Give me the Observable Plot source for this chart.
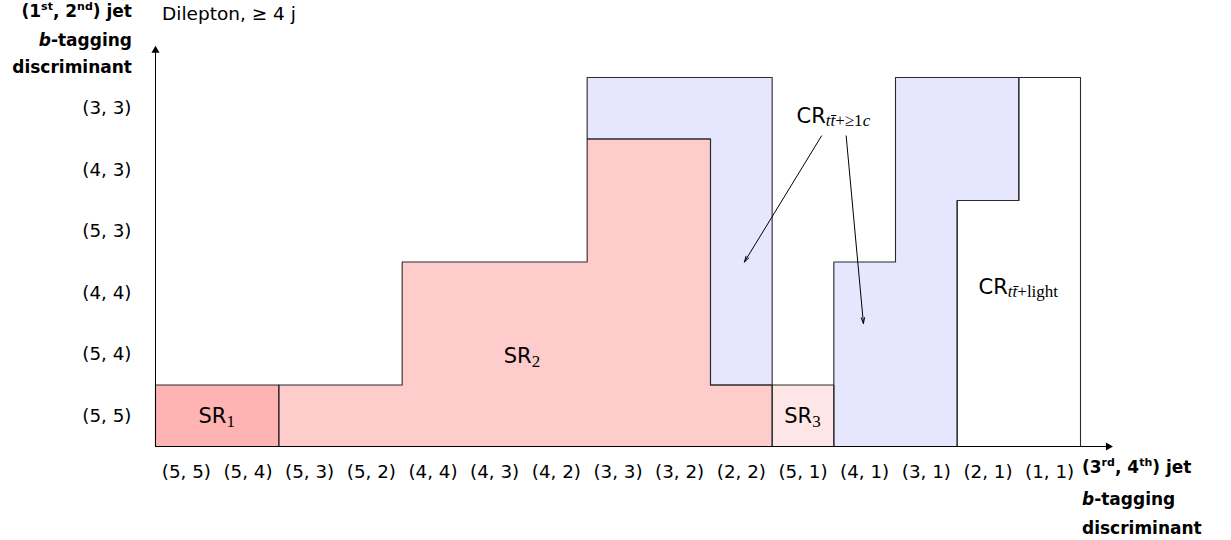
<!DOCTYPE html>
<html><head><meta charset="utf-8">
<script src="https://cdn.jsdelivr.net/npm/d3@7"></script>
<script src="https://cdn.jsdelivr.net/npm/@observablehq/plot@0.6"></script>
<style>
body{margin:0;background:#fff;}
#wrap{position:relative;width:1231px;height:540px;font-family:"DejaVu Sans",sans-serif;color:#000;}
#wrap svg{position:absolute;left:0;top:0;}
.lab{position:absolute;font-weight:bold;font-size:17px;line-height:27px;white-space:nowrap;}
.lab sup{font-size:11px;vertical-align:0;position:relative;top:-7px;}
.sub{position:absolute;font-size:18.5px;white-space:nowrap;}
</style></head><body><div id="wrap"></div>
<script>
// ---- data ----
const xLabels = ["(5, 5)","(5, 4)","(5, 3)","(5, 2)","(4, 4)","(4, 3)","(4, 2)","(3, 3)","(3, 2)","(2, 2)","(5, 1)","(4, 1)","(3, 1)","(2, 1)","(1, 1)"];
const yLabels = ["(5, 5)","(5, 4)","(4, 4)","(5, 3)","(4, 3)","(3, 3)"];

const sr1Bins = [0, 1];
const sr1Low  = [0, 0];
const sr1High = [1, 1];

const sr2Bins = [2, 3, 4, 5, 6, 7, 8, 9];
const sr2Low  = [0, 0, 0, 0, 0, 0, 0, 0];
const sr2High = [1, 1, 3, 3, 3, 5, 5, 1];

const sr3Bins = [10];
const sr3Low  = [0];
const sr3High = [1];

const crcBins = [7, 8, 9, 11, 12, 13];
const crcLow  = [5, 5, 1, 0, 0, 4];
const crcHigh = [6, 6, 6, 3, 6, 6];

const crlBins = [13, 14];
const crlLow  = [0, 0];
const crlHigh = [4, 6];

// ---- helpers ----
function cells(bins, low, high) {
  return bins.map((b, i) => ({x1: b, x2: b + 1, y1: low[i], y2: high[i]}));
}
function outline(bins, low, high, name) {
  const groups = []; let cur = null;
  bins.forEach((b, i) => { if (!cur || b !== bins[i - 1] + 1) { cur = []; groups.push(cur); } cur.push(i); });
  const pts = [];
  groups.forEach((g, gi) => {
    const id = name + gi;
    const p = [[bins[g[0]], low[g[0]]]];
    g.forEach(i => { p.push([bins[i], high[i]]); p.push([bins[i] + 1, high[i]]); });
    g.slice().reverse().forEach(i => { p.push([bins[i] + 1, low[i]]); p.push([bins[i], low[i]]); });
    p.forEach(([x, y]) => pts.push({id, x, y}));
  });
  return pts;
}

const nX = xLabels.length, nY = yLabels.length;
const xEnd = nX + 0.45, yEnd = nY + 0.44;
const edge = "#2a2a2a";
const regions = [
  {bins: sr1Bins, low: sr1Low, high: sr1High, fill: "#ffb3b3", name: "sr1"},
  {bins: sr2Bins, low: sr2Low, high: sr2High, fill: "#ffcccc", name: "sr2"},
  {bins: sr3Bins, low: sr3Low, high: sr3High, fill: "#ffe6e6", name: "sr3"},
  {bins: crcBins, low: crcLow, high: crcHigh, fill: "#e6e6ff", name: "crc"},
  {bins: crlBins, low: crlLow, high: crlHigh, fill: "#ffffff", name: "crl"}
];

const marks = [];
regions.forEach(r => marks.push(Plot.rect(cells(r.bins, r.low, r.high), {x1: "x1", x2: "x2", y1: "y1", y2: "y2", fill: r.fill, shapeRendering: "crispEdges"})));
regions.forEach(r => marks.push(Plot.line(outline(r.bins, r.low, r.high, r.name), {x: "x", y: "y", z: "id", stroke: edge, strokeWidth: 1.1})));

// axes lines with arrow tips
marks.push(Plot.ruleY([0], {x1: 0, x2: xEnd, stroke: "#000", strokeWidth: 1}));
marks.push(Plot.ruleX([0], {y1: 0, y2: yEnd, stroke: "#000", strokeWidth: 1}));
marks.push(Plot.dot([{x: xEnd, y: 0}], {x: "x", y: "y", symbol: "triangle", rotate: 90, r: 3, fill: "#000", stroke: "none"}));
marks.push(Plot.dot([{x: 0, y: yEnd}], {x: "x", y: "y", symbol: "triangle", rotate: 0, r: 3, fill: "#000", stroke: "none"}));

// annotation arrows
const arrowsFrom = [[10.8, 5.05], [11.2, 5.05]];
const arrowsTo   = [[9.55, 3.0], [11.48, 2.0]];
marks.push(Plot.arrow(arrowsFrom.map((f, i) => ({x1: f[0], y1: f[1], x2: arrowsTo[i][0], y2: arrowsTo[i][1]})),
  {x1: "x1", y1: "y1", x2: "x2", y2: "y2", stroke: "#000", strokeWidth: 1, headLength: 9, headAngle: 32}));

marks.push(Plot.axisX({ticks: d3.range(nX).map(i => i + 0.5), tickFormat: d => xLabels[Math.floor(d)], tickSize: 0, tickPadding: 18, label: null, fontSize: 18.3}));
marks.push(Plot.axisY({ticks: d3.range(nY).map(i => i + 0.5), tickFormat: d => yLabels[Math.floor(d)], tickSize: 0, tickPadding: 24, label: null, fontSize: 18.3}));

const plot = Plot.plot({
  width: 1231, height: 540,
  marginLeft: 155, marginRight: 100, marginTop: 40, marginBottom: 94,
  style: {fontFamily: "DejaVu Sans", fontSize: "18px", color: "#000", background: "transparent"},
  x: {domain: [0, nX], range: [155, 1080]},
  y: {domain: [0, nY], range: [446, 77]},
  marks
});
const wrap = document.getElementById("wrap");
wrap.appendChild(plot);

// region labels with sub-scripts (positioned through plot scales)
const xs = plot.scale("x"), ys = plot.scale("y");
const svg = d3.select(plot);
const labelMain = ["SR", "SR", "SR", "CR", "CR"];
const labelSub  = [[["1", false]], [["2", false]], [["3", false]],
                   [["tt\u0304", true], ["+\u22651", false], ["c", true]],
                   [["tt\u0304", true], ["+light", false]]];
const labelPos  = [[1, 0.5], [5.95, 1.47], [10.5, 0.5], [11, 5.38], [14, 2.6]];
labelMain.forEach((m, i) => {
  const t = svg.append("text")
    .attr("x", xs.apply(labelPos[i][0])).attr("y", ys.apply(labelPos[i][1]))
    .attr("text-anchor", "middle").attr("dy", "0.36em")
    .attr("font-family", "DejaVu Sans").attr("font-size", 21).attr("fill", "#000");
  t.append("tspan").text(m);
  labelSub[i].forEach(([s, it], j) => {
    const ts = t.append("tspan").text(s).attr("font-family", "Liberation Serif").attr("font-size", 17)
      .attr("font-style", it ? "italic" : "normal");
    if (j === 0) ts.attr("dy", "0.22em");
  });
});

// outer titles
function addDiv(cls, html, css) {
  const d = document.createElement("div"); d.className = cls; d.innerHTML = html;
  Object.assign(d.style, css); wrap.appendChild(d);
}
addDiv("lab", "(1<sup>st</sup>, 2<sup>nd</sup>) jet<br><i>b</i>-tagging<br>discriminant", {right: (1231 - 132) + "px", top: "-2px", textAlign: "right"});
addDiv("lab", "(3<sup>rd</sup>, 4<sup>th</sup>) jet<br><i>b</i>-tagging<br>discriminant", {left: "1082px", top: "453px", lineHeight: "29.5px"});
addDiv("sub", "Dilepton, \u2265 4 j", {left: "162px", top: "3px"});
</script></body></html>
